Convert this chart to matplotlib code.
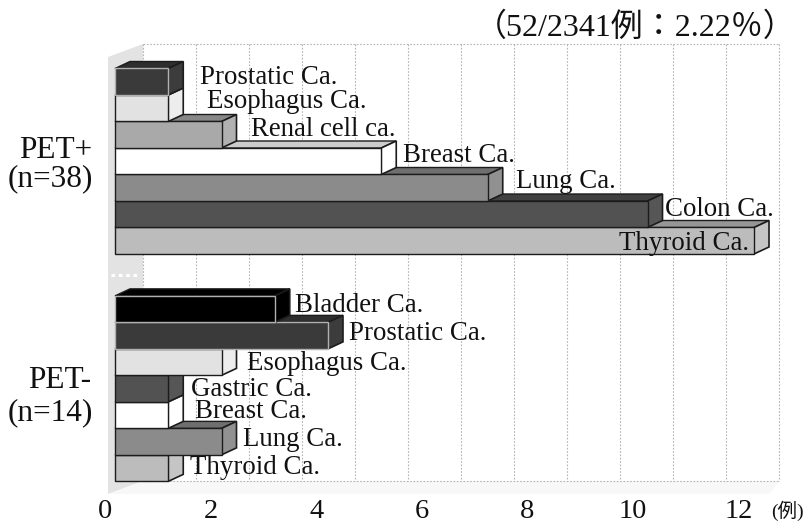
import matplotlib
matplotlib.use("Agg")
import matplotlib.pyplot as plt
from matplotlib.patches import Polygon
from matplotlib.transforms import Affine2D

plt.rcParams['font.family'] = ['Liberation Serif', 'Noto Sans CJK JP']

pos_names = ['Prostatic Ca.', 'Esophagus Ca.', 'Renal cell ca.', 'Breast Ca.', 'Lung Ca.', 'Colon Ca.', 'Thyroid Ca.']
pos_values = [1, 1, 2, 5, 7, 10, 12]
pos_colors = ['#3a3a3a', '#e2e2e2', '#a9a9a9', '#ffffff', '#8b8b8b', '#525252', '#bcbcbc']
neg_names = ['Bladder Ca.', 'Prostatic Ca.', 'Esophagus Ca.', 'Gastric Ca.', 'Breast Ca.', 'Lung Ca.', 'Thyroid Ca.']
neg_values = [3, 4, 2, 1, 1, 2, 1]
neg_colors = ['#000000', '#3a3a3a', '#e2e2e2', '#525252', '#ffffff', '#8b8b8b', '#bcbcbc']
ticks = [0, 2, 4, 6, 8, 10, 12]

# label spots, in pixels of the picture
pos_label_xy = [(200, 77), (207, 102), (251, 129), (403, 156), (516, 181), (665, 209), (619, 244)]
neg_label_xy = [(295, 305), (349, 333), (247, 363), (191, 389), (195, 412), (243, 439), (190, 468)]

W, H = 806, 524
X0, UNIT = 115, 53.25
Y0, ROW = 68.5, 26.5
NEG_START = 8.58
DX, DY = 15 / UNIT, 7 / ROW

fig = plt.figure(figsize=(W / 100, H / 100), dpi=100)
ax = fig.add_axes([0, 0, 1, 1])
ax.set_xlim(-X0 / UNIT, (W - X0) / UNIT)
ax.set_ylim((H - Y0) / ROW, -Y0 / ROW)
ax.axis('off')
px = Affine2D().scale(1 / W, -1 / H).translate(0, 1) + fig.transFigure

# wall and floor
ax.add_patch(Polygon([(108, 57), (143, 44), (143, 481), (108, 494)], closed=True, transform=px,
                     fc='#e3e3e3', ec='none', zorder=1))
ax.add_patch(Polygon([(108, 494), (143, 481), (779, 481), (770, 494)], closed=True, transform=px,
                     fc='#f8f8f8', ec='none', zorder=1))
ax.plot([111, 140], [275, 275], transform=px, color='white', lw=2.2, ls=(0, (1.2, 1.2)), zorder=2)

# back plane grid
for k in range(13):
    x = 143 + 53 * k
    ax.plot([x, x], [44, 481], transform=px, color='#b4b4b4', lw=0.8, ls=(0, (1.5, 1.5)), zorder=2)
for y in [44, 481]:
    ax.plot([143, 779], [y, y], transform=px, color='#b4b4b4', lw=0.8, ls=(0, (1.5, 1.5)), zorder=2)


def shade(c, f):
    v = int(c[1:3], 16)
    v = min(255, max(0, int(v * f)))
    return '#%02x%02x%02x' % (v, v, v)


def bar3d(v, r, c):
    edge = '#1c1c1c'
    top = [(0, r), (DX, r - DY), (v + DX, r - DY), (v, r)]
    side = [(v, r), (v + DX, r - DY), (v + DX, r + 1 - DY), (v, r + 1)]
    front = [(0, r), (v, r), (v, r + 1), (0, r + 1)]
    if c in ('#000000', '#3a3a3a'):
        edge = '#b0b0b0'
    ax.add_patch(Polygon(top, closed=True, fc=shade(c, 0.8), ec='#1c1c1c', lw=1.0, zorder=3))
    ax.add_patch(Polygon(side, closed=True, fc=shade(c, 1.05), ec='#1c1c1c', lw=1.2, zorder=3))
    ax.add_patch(Polygon(front, closed=True, fc=c, ec=edge, lw=1.0, zorder=3))


# bottom rows first, the row above hides the top face of the one below
for i in range(6, -1, -1):
    bar3d(neg_values[i], NEG_START + i, neg_colors[i])
for i in range(6, -1, -1):
    bar3d(pos_values[i], i, pos_colors[i])

ink = '#111111'
for name, (x, y) in zip(pos_names + neg_names, pos_label_xy + neg_label_xy):
    ax.text(x, y, name, transform=px, fontsize=19.4, color=ink, ha='left', va='center', zorder=5)

for t in ticks:
    ax.text(105 + 52.8 * t, 512, str(t), transform=px, fontsize=20.5, color=ink, ha='center', va='center')
ax.text(787, 511, '(例)', transform=px, fontsize=14, color=ink, ha='center', va='center')

ax.text(56, 150, 'PET+', transform=px, fontsize=22.5, color=ink, ha='center', va='center')
ax.text(50, 179, '(n=38)', transform=px, fontsize=22.5, color=ink, ha='center', va='center')
ax.text(60, 381, 'PET-', transform=px, fontsize=22.5, color=ink, ha='center', va='center')
ax.text(50, 413, '(n=14)', transform=px, fontsize=22.5, color=ink, ha='center', va='center')
ax.text(635, 28, '（52/2341例：2.22％）', transform=px, fontsize=23, color=ink, ha='center', va='center')

fig.savefig('out.png', dpi=100)
